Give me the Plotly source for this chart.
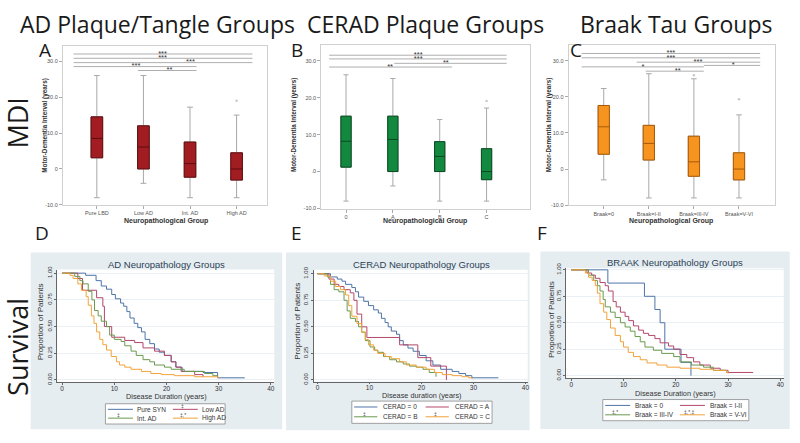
import plotly.graph_objects as go

W, H = 800, 443


def px(x):
    return x / W


def py(y):
    return 1 - y / H


# ---------------- DATA: Motor-Dementia Interval box plots ----------------
pos = [0, 1, 2, 3]

catA = ["Pure LBD", "Low AD", "Int. AD", "High AD"]
A_low = [-8.0, -4.0, -8.0, -8.0]
A_q1 = [3.1, 0.0, -2.3, -3.1]
A_med = [8.5, 6.1, 1.5, 0.0]
A_q3 = [14.5, 12.0, 7.5, 4.5]
A_high = [26.0, 26.0, 17.2, 15.0]
A_out_x = [3]
A_out_y = [19.0]

catB = ["0", "A", "B", "C"]
B_low = [-8.0, -3.9, -8.0, -8.0]
B_q1 = [1.2, 0.0, 0.0, -2.2]
B_med = [8.2, 8.7, 4.1, 0.0]
B_q3 = [15.0, 15.0, 8.1, 6.2]
B_high = [26.2, 25.2, 14.1, 17.2]
B_out_x = [3]
B_out_y = [19.1]

catC = ["Braak=0", "Braak=I-II", "Braak=III-IV", "Braak=V-VI"]
C_low = [-3.0, -8.0, -8.0, -8.0]
C_q1 = [4.1, 2.5, -2.0, -3.0]
C_med = [11.7, 7.1, 2.0, 0.0]
C_q3 = [17.6, 12.1, 9.1, 4.5]
C_high = [22.3, 26.4, 25.0, 15.0]
C_out_x = [2, 3]
C_out_y = [26.0, 19.3]

# significance brackets (start category, end category, level, star position, label)
sigA_start = [-0.5, -0.5, -0.5, -0.5, 0.88]
sigA_end = [3.34, 3.34, 3.34, 2.14, 2.14]
sigA_y = [32.0, 30.8, 29.6, 28.5, 27.4]
sigA_star = [1.41, 1.41, 2.01, 0.84, 1.56]
sigA_lab = ["***", "***", "***", "***", "**"]

sigB_start = [-0.36, -0.36, 1.03, -0.36]
sigB_end = [3.43, 3.43, 3.43, 2.26]
sigB_y = [31.5, 30.5, 29.3, 28.3]
sigB_star = [1.54, 1.54, 2.13, 0.94]
sigB_lab = ["***", "***", "**", "**"]

sigC_start = [-0.49, -0.49, 0.73, -0.49, 2.22, 0.93]
sigC_end = [3.47, 3.47, 3.47, 2.22, 3.47, 2.22]
sigC_y = [32.0, 30.8, 29.6, 28.3, 28.7, 27.1]
sigC_star = [1.49, 1.49, 2.09, 0.87, 2.87, 1.64]
sigC_lab = ["***", "***", "***", "*", "*", "**"]

mdi_ticks = [-10, 0, 10, 20, 30]
mdi_ticktextA = ["-10.0", "0", "10.0", "20.0", "30.0"]
mdi_ticktextB = ["-10.0", ".0", "10.0", "20.0", "30.0"]
mdi_ticktextC = ["-10.0", "0", "10.0", "20.0", "30.0"]

# ---------------- DATA: Kaplan-Meier survival ----------------
D_pure_t = [0, 4.5, 6.5, 7.5, 8.5, 9.5, 10.2, 11.2, 11.8, 12.4, 13.0, 13.8, 14.5, 15.2, 15.9, 16.8, 17.7, 18.6, 19.6, 20.9, 21.8, 23.0, 27.0, 29.8, 35.0]
D_pure_s = [1.00, 0.98, 0.93, 0.88, 0.85, 0.80, 0.76, 0.72, 0.69, 0.64, 0.58, 0.53, 0.49, 0.45, 0.38, 0.34, 0.29, 0.26, 0.23, 0.17, 0.12, 0.08, 0.07, 0.02, 0.02]
D_low_t = [0, 3.0, 3.9, 6.6, 7.8, 8.1, 9.5, 12.0, 13.9, 15.5, 17.7, 19.6, 20.9, 21.8, 22.8, 25.4, 27.0]
D_low_s = [1.00, 0.95, 0.84, 0.77, 0.69, 0.50, 0.40, 0.37, 0.35, 0.30, 0.27, 0.23, 0.17, 0.12, 0.08, 0.05, 0.03]
D_int_t = [0, 2.4, 3.4, 4.0, 5.0, 5.7, 6.2, 6.9, 7.5, 8.5, 9.1, 10.0, 11.3, 12.0, 13.2, 14.2, 15.5, 16.8, 17.7, 19.6, 20.9, 23.4, 27.3, 28.9, 29.8]
D_int_s = [1.00, 0.97, 0.93, 0.90, 0.83, 0.75, 0.65, 0.60, 0.55, 0.50, 0.42, 0.38, 0.36, 0.32, 0.27, 0.23, 0.19, 0.17, 0.14, 0.12, 0.10, 0.08, 0.06, 0.04, 0.02]
D_high_t = [0, 1.5, 2.1, 3.0, 3.7, 4.6, 5.0, 5.6, 6.1, 6.6, 7.2, 7.8, 8.5, 9.4, 10.4, 11.0, 12.0, 13.2, 15.2, 17.0, 19.0, 21.5, 25.4, 29.8, 30.0]
D_high_s = [1.00, 0.98, 0.95, 0.90, 0.84, 0.78, 0.70, 0.60, 0.53, 0.45, 0.38, 0.33, 0.28, 0.22, 0.17, 0.14, 0.12, 0.10, 0.08, 0.06, 0.05, 0.04, 0.03, 0.02, 0.02]

E_0_t = [0, 2.5, 3.8, 4.7, 5.4, 6.6, 7.3, 7.9, 8.9, 9.8, 10.8, 11.7, 12.3, 13.0, 13.6, 14.2, 15.2, 15.8, 16.5, 17.4, 18.4, 19.6, 20.9, 22.2, 23.7, 25.9, 27.2, 28.5, 29.7, 34.8]
E_0_s = [1.00, 0.97, 0.95, 0.93, 0.90, 0.87, 0.83, 0.78, 0.74, 0.70, 0.66, 0.63, 0.58, 0.54, 0.50, 0.46, 0.43, 0.37, 0.33, 0.30, 0.27, 0.23, 0.18, 0.14, 0.10, 0.08, 0.06, 0.04, 0.02, 0.02]
E_A_t = [0, 2.2, 3.2, 4.1, 5.1, 6.3, 7.0, 7.6, 8.5, 9.5, 15.8, 19.3, 21.8, 24.8]
E_A_s = [1.00, 0.95, 0.90, 0.88, 0.85, 0.82, 0.75, 0.62, 0.50, 0.40, 0.33, 0.21, 0.13, 0.00]
E_B_t = [0, 1.9, 2.5, 3.2, 4.1, 5.1, 5.7, 6.3, 7.3, 7.9, 8.5, 9.2, 10.1, 11.0, 11.6, 12.7, 13.9, 15.2, 16.5, 17.7, 19.0, 20.3, 21.5, 22.8]
E_B_s = [1.00, 0.97, 0.90, 0.85, 0.83, 0.75, 0.65, 0.58, 0.55, 0.50, 0.45, 0.37, 0.31, 0.28, 0.26, 0.22, 0.19, 0.17, 0.15, 0.13, 0.12, 0.10, 0.07, 0.03]
E_C_t = [0, 1.3, 2.5, 3.5, 4.4, 5.4, 6.0, 6.6, 7.6, 8.5, 9.2, 9.8, 10.8, 11.6, 13.0, 14.2, 15.8, 17.1, 19.0, 20.9, 22.5, 24.0, 25.9, 27.8, 29.1, 29.7]
E_C_s = [1.00, 0.98, 0.93, 0.88, 0.85, 0.80, 0.70, 0.60, 0.53, 0.45, 0.38, 0.33, 0.28, 0.25, 0.22, 0.20, 0.17, 0.14, 0.12, 0.10, 0.07, 0.05, 0.04, 0.03, 0.02, 0.01]

F_0_t = [0, 7.0, 14.0, 16.0, 17.0, 17.9, 21.0, 22.9]
F_0_s = [1.00, 0.875, 0.75, 0.625, 0.50, 0.25, 0.125, 0.00]
F_I_t = [0, 3.0, 3.9, 4.6, 5.5, 6.5, 7.1, 8.0, 8.6, 9.4, 10.3, 11.0, 11.9, 12.9, 13.8, 14.8, 16.0, 17.0, 18.6, 19.6, 20.8, 22.1, 23.4, 24.6, 26.6, 28.5, 30.0, 34.8]
F_I_s = [1.00, 0.97, 0.95, 0.92, 0.88, 0.85, 0.80, 0.70, 0.65, 0.60, 0.56, 0.52, 0.47, 0.43, 0.40, 0.38, 0.35, 0.31, 0.28, 0.25, 0.20, 0.17, 0.13, 0.10, 0.07, 0.05, 0.03, 0.03]
F_III_t = [0, 3.3, 4.3, 5.0, 5.5, 6.1, 6.5, 7.5, 8.4, 9.4, 10.3, 11.3, 12.2, 13.2, 14.1, 15.7, 17.3, 19.6, 20.8, 23.0, 25.3, 27.2, 29.7, 30.0]
F_III_s = [1.00, 0.95, 0.90, 0.85, 0.80, 0.72, 0.65, 0.60, 0.55, 0.50, 0.46, 0.42, 0.37, 0.32, 0.27, 0.24, 0.21, 0.18, 0.13, 0.10, 0.08, 0.05, 0.03, 0.03]
F_V_t = [0, 2.7, 3.3, 4.0, 4.6, 5.0, 5.5, 6.2, 6.8, 7.5, 8.4, 9.4, 10.0, 10.9, 11.9, 13.2, 14.5, 16.4, 18.3, 20.8, 24.6, 27.2, 29.7, 30.0]
F_V_s = [1.00, 0.97, 0.93, 0.90, 0.85, 0.78, 0.68, 0.60, 0.53, 0.45, 0.38, 0.32, 0.27, 0.22, 0.18, 0.15, 0.12, 0.10, 0.08, 0.07, 0.06, 0.05, 0.03, 0.02]

surv_ticks = [0, 0.25, 0.5, 0.75, 1.0]
surv_ticktext = ["0.00", "0.25", "0.50", "0.75", "1.00"]
dur_ticks = [0, 10, 20, 30, 40]

legD = ["Pure SYN", "Low AD", "Int. AD", "High AD"]
legD_sym = ["", "‡", "‡", "‡,*"]
legE = ["CERAD = 0", "CERAD = A", "CERAD = B", "CERAD = C"]
legE_sym = ["", "", "‡", "‡"]
legF = ["Braak = 0", "Braak = I-II", "Braak = III-IV", "Braak = V-VI"]
legF_sym = ["", "", "‡,*", "‡,*,‡"]

# ---------------- STYLE ----------------
KM_COLORS = ["#4e74a8", "#b3476a", "#6a9a4e", "#f2a23a"]
ARIAL = "Liberation Sans, Arial, sans-serif"
BIG = "Open Sans, Noto Sans, sans-serif"
PANEL_BG = "#e6edf1"

fig = go.Figure()

box_panels = [
    ("x", "y", A_low, A_q1, A_med, A_q3, A_high, A_out_x, A_out_y, "#a11d22", "#5e0d10", 0.25,
     sigA_start, sigA_end, sigA_y, sigA_star, sigA_lab),
    ("x2", "y2", B_low, B_q1, B_med, B_q3, B_high, B_out_x, B_out_y, "#12893f", "#0a4a22", 0.22,
     sigB_start, sigB_end, sigB_y, sigB_star, sigB_lab),
    ("x3", "y3", C_low, C_q1, C_med, C_q3, C_high, C_out_x, C_out_y, "#f7931f", "#a75a08", 0.25,
     sigC_start, sigC_end, sigC_y, sigC_star, sigC_lab),
]

for (xa, ya, lo, q1, med, q3, hi, ox, oy, fill, dark, bw, ss, se, sy, sx, sl) in box_panels:
    fig.add_trace(go.Box(x=pos, q1=q1, median=med, q3=q3, lowerfence=lo, upperfence=hi,
                         width=bw, whiskerwidth=0.5, fillcolor=fill,
                         line=dict(color="#a8a8a8", width=1), boxpoints=False,
                         xaxis=xa, yaxis=ya, showlegend=False, hoverinfo="skip"))
    fig.add_trace(go.Box(x=pos, q1=q1, median=med, q3=q3, lowerfence=q1, upperfence=q3,
                         width=bw, whiskerwidth=0, fillcolor=fill,
                         line=dict(color=dark, width=1), boxpoints=False,
                         xaxis=xa, yaxis=ya, showlegend=False, hoverinfo="skip"))
    fig.add_trace(go.Scatter(x=ox, y=oy, mode="markers",
                             marker=dict(size=2.5, color="#c8c8c8"),
                             xaxis=xa, yaxis=ya, showlegend=False, hoverinfo="skip"))
    lx, ly = [], []
    for s0, s1, yv in zip(ss, se, sy):
        lx += [s0, s1, None]
        ly += [yv, yv, None]
    fig.add_trace(go.Scatter(x=lx, y=ly, mode="lines", line=dict(color="#9a9a9a", width=0.8),
                             xaxis=xa, yaxis=ya, showlegend=False, hoverinfo="skip"))
    fig.add_trace(go.Scatter(x=sx, y=sy, mode="text", text=sl, textposition="middle center",
                             textfont=dict(size=7.5, color="#333", family=ARIAL),
                             xaxis=xa, yaxis=ya, showlegend=False, hoverinfo="skip"))

surv_panels = [
    ("x4", "y4", [(D_pure_t, D_pure_s), (D_low_t, D_low_s), (D_int_t, D_int_s), (D_high_t, D_high_s)]),
    ("x5", "y5", [(E_0_t, E_0_s), (E_A_t, E_A_s), (E_B_t, E_B_s), (E_C_t, E_C_s)]),
    ("x6", "y6", [(F_0_t, F_0_s), (F_I_t, F_I_s), (F_III_t, F_III_s), (F_V_t, F_V_s)]),
]
for xa, ya, curves in surv_panels:
    for (t, s), c in zip(curves, KM_COLORS):
        fig.add_trace(go.Scatter(x=t, y=s, mode="lines", line=dict(color=c, width=1, shape="hv"),
                                 xaxis=xa, yaxis=ya, showlegend=False, hoverinfo="skip"))

# ---------------- AXES ----------------
def box_x(dom, rng, cats, anchor):
    return dict(domain=dom, range=rng, tickvals=pos, ticktext=cats, ticks="outside", ticklen=3,
                tickcolor="#aaa", tickfont=dict(size=5.5, color="#555", family=ARIAL),
                showline=True, linecolor="#d0d0d0", linewidth=1, mirror=True,
                showgrid=False, zeroline=False, anchor=anchor)


def box_y(dom, rng, tt, anchor):
    return dict(domain=dom, range=rng, tickvals=mdi_ticks, ticktext=tt, ticks="outside", ticklen=3,
                tickcolor="#aaa", tickfont=dict(size=5.5, color="#555", family=ARIAL),
                showline=True, linecolor="#d0d0d0", linewidth=1, mirror=True,
                showgrid=False, zeroline=False, anchor=anchor)


def surv_x(dom, rng, anchor):
    return dict(domain=dom, range=rng, tickvals=dur_ticks, ticks="outside", ticklen=2,
                tickcolor="#666", tickfont=dict(size=6.5, color="#333", family=ARIAL),
                ticklabelstandoff=-2,
                showline=True, linecolor="#666", linewidth=0.8, showgrid=False,
                zeroline=False, anchor=anchor)


def surv_y(dom, rng, anchor):
    return dict(domain=dom, range=rng, tickvals=surv_ticks, ticktext=surv_ticktext,
                tickangle=-90, ticks="outside", ticklen=2, tickcolor="#666",
                tickfont=dict(size=6, color="#333", family=ARIAL),
                showline=True, linecolor="#666", linewidth=0.8, showgrid=True,
                gridcolor="#eaf0f3", gridwidth=1, zeroline=False, anchor=anchor)


fig.update_layout(
    width=W, height=H, margin=dict(l=0, r=0, t=0, b=0),
    paper_bgcolor="white", plot_bgcolor="white", showlegend=False, boxmode="overlay",
    xaxis=box_x([px(63), px(268)], [-0.73, 3.66], catA, "y"),
    yaxis=box_y([py(203), py(40.7)], [-10, 34.26], mdi_ticktextA, "x"),
    xaxis2=box_x([px(322), px(531)], [-0.53, 3.92], catB, "y2"),
    yaxis2=box_y([py(206.7), py(39.3)], [-10, 34.4], mdi_ticktextB, "x2"),
    xaxis3=box_x([px(570), px(777)], [-0.78, 3.8], catC, "y3"),
    yaxis3=box_y([py(203.3), py(40)], [-10, 34.3], mdi_ticktextC, "x3"),
    xaxis4=surv_x([px(57.3), px(275)], [-0.96, 40.67], "y4"),
    yaxis4=surv_y([py(384), py(269)], [-0.021, 1.034], "x4"),
    xaxis5=surv_x([px(314.3), px(529)], [-0.77, 40.44], "y5"),
    yaxis5=surv_y([py(383.3), py(269.3)], [-0.015, 1.037], "x5"),
    xaxis6=surv_x([px(567.3), px(785.7)], [-1.03, 40.65], "y6"),
    yaxis6=surv_y([py(380), py(267.7)], [-0.025, 1.015], "x6"),
)

# ---------------- SHAPES (panel backgrounds, legends) ----------------
shapes = []
for (x0, x1, y0, y1, ix0, ix1, iy0, iy1) in [
    (30.7, 283, 251.7, 432, 57.3, 275, 269, 384),
    (286.7, 531, 251.7, 433, 314.3, 529, 269.3, 383.3),
    (541.7, 791.7, 250.7, 431.7, 567.3, 785.7, 267.7, 380),
]:
    shapes.append(dict(type="rect", xref="paper", yref="paper", x0=px(x0), x1=px(x1),
                       y0=py(y1), y1=py(y0), fillcolor=PANEL_BG, line=dict(width=0), layer="below"))
    shapes.append(dict(type="rect", xref="paper", yref="paper", x0=px(ix0), x1=px(ix1),
                       y0=py(iy1), y1=py(iy0), fillcolor="white", line=dict(width=0), layer="below"))

annotations = []


def ann(text, x, y, size, color="#222", family=ARIAL, xanchor="center", yanchor="middle", angle=0):
    annotations.append(dict(text=text, x=px(x), y=py(y), xref="paper", yref="paper",
                            showarrow=False, xanchor=xanchor, yanchor=yanchor, textangle=angle,
                            font=dict(size=size, color=color, family=family)))


legends = [
    (legD, legD_sym, (105.7, 225.7, 406, 426.7), (108.3, 173.3), (411.7, 420.7), 25, 27),
    (legE, legE_sym, (352.7, 493.3, 403.3, 426), (355, 426.7), (409.3, 419.3), 23.3, 27.3),
    (legF, legF_sym, (604.3, 750.7, 401.7, 423.3), (606.7, 681.7), (407.7, 417.3), 25, 28.3),
]
for labels, syms, (bx0, bx1, by0, by1), cols, rows, ll, lo in legends:
    shapes.append(dict(type="rect", xref="paper", yref="paper", x0=px(bx0), x1=px(bx1),
                       y0=py(by1), y1=py(by0), fillcolor="white",
                       line=dict(color="#8a8a8a", width=0.8), layer="above"))
    for i, (lab, sym) in enumerate(zip(labels, syms)):
        cx = cols[i % 2]
        ry = rows[i // 2]
        shapes.append(dict(type="line", xref="paper", yref="paper", x0=px(cx), x1=px(cx + ll),
                           y0=py(ry), y1=py(ry), line=dict(color=KM_COLORS[i], width=1), layer="above"))
        ann(lab, cx + lo, ry, 6.5, color="#333", xanchor="left")
        if sym:
            ann(sym, cx + 10, ry - 3.3, 5, color="#333")

fig.update_layout(shapes=shapes)

# ---------------- TEXT ----------------
ann("AD Plaque/Tangle Groups", 158, 18, 23, color="#1a1a1a", family=BIG)
ann("CERAD Plaque Groups", 427, 18, 23, color="#1a1a1a", family=BIG)
ann("Braak Tau Groups", 678, 18, 23, color="#1a1a1a", family=BIG)
ann("MDI", 18, 119, 27, color="#1a1a1a", family=BIG, angle=-90)
ann("Survival", 18, 348, 27, color="#1a1a1a", family=BIG, angle=-90)
for lt, lx, ly in [("A", 45, 45), ("B", 298, 45), ("C", 577, 45), ("D", 42, 232), ("E", 297, 232), ("F", 543, 232)]:
    ann(lt, lx, ly, 19, color="#1a1a1a", family=BIG)

for xm, xt in [(44.3, 166), (294.3, 426), (550, 673)]:
    ann("<b>Motor-Dementia Interval (years)</b>", xm, 122, 6.3, color="#333", angle=-90)
    ann("<b>Neuropathological Group</b>", xt, 219.5, 7, color="#333")

ann("AD Neuropathology Groups", 167, 263.5, 9.5, color="#2b3f55")
ann("CERAD Neuropathology Groups", 423, 264.3, 9.5, color="#2b3f55")
ann("BRAAK Neuropathology Groups", 677, 261.7, 9.5, color="#2b3f55")
ann("Disease Duration (years)", 167, 398.5, 7.3, color="#333")
ann("Disease duration (years)", 423, 398, 7.3, color="#333")
ann("Disease Duration (years)", 677, 395.5, 7.3, color="#333")
ann("Proportion of Patients", 41, 322, 8, color="#333", angle=-90)
ann("Proportion of Patients", 298, 322, 8, color="#333", angle=-90)
ann("Proportion of Patients", 553, 320, 8, color="#333", angle=-90)

fig.update_layout(annotations=annotations)

fig.write_html("out.html", config={"displayModeBar": False},
               post_script="document.body.style.margin='0';document.body.style.padding='0';")
